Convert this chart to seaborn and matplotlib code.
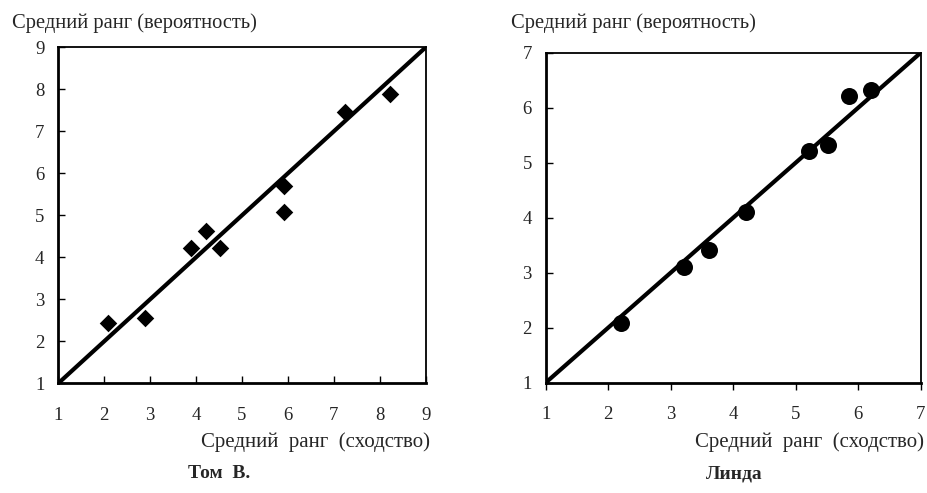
import matplotlib
matplotlib.use("Agg")
import matplotlib.pyplot as plt
import seaborn as sns
import pandas as pd

# ---- data ----
tom_similarity = [2.09, 2.89, 3.90, 4.21, 4.53, 5.91, 5.91, 7.24, 8.22]
tom_probability = [2.44, 2.55, 4.23, 4.63, 4.22, 5.70, 5.09, 7.46, 7.90]
linda_similarity = [2.20, 3.21, 3.61, 4.21, 5.21, 5.52, 5.86, 6.20]
linda_probability = [2.09, 3.10, 3.41, 4.10, 5.22, 5.32, 6.21, 6.32]
tom_diag = [1, 9]
linda_diag = [1, 7]
tom_ticks = [1, 2, 3, 4, 5, 6, 7, 8, 9]
linda_ticks = [1, 2, 3, 4, 5, 6, 7]
xlabel = "Средний  ранг  (сходство)"
ylabel = "Средний ранг (вероятность)"
titles = ["Том  В.", "Линда"]

sns.set_theme(style="white")
plt.rcParams['font.family'] = ['Liberation Serif', 'DejaVu Serif']

fig = plt.figure(figsize=(9.28, 4.93), dpi=100)
ax1 = fig.add_axes([0.0628, 0.2225, 0.3959, 0.6815])
ax2 = fig.add_axes([0.5880, 0.2237, 0.4041, 0.6693])

df_t = pd.DataFrame({"x": tom_similarity, "y": tom_probability})
df_l = pd.DataFrame({"x": linda_similarity, "y": linda_probability})

sns.lineplot(x=tom_diag, y=tom_diag, ax=ax1, color="black", lw=3, zorder=2)
sns.scatterplot(data=df_t, x="x", y="y", ax=ax1, marker="D", s=80,
                color="black", edgecolor="black", linewidth=0, zorder=3)
sns.lineplot(x=linda_diag, y=linda_diag, ax=ax2, color="black", lw=3, zorder=2)
sns.scatterplot(data=df_l, x="x", y="y", ax=ax2, marker="o", s=150,
                color="black", edgecolor="black", linewidth=0, zorder=3)

for ax, ticks, xdir in [(ax1, tom_ticks, "in"), (ax2, linda_ticks, "out")]:
    ax.set_xlim(ticks[0], ticks[-1])
    ax.set_ylim(ticks[0], ticks[-1])
    ax.set_xticks(ticks)
    ax.set_yticks(ticks)
    ax.set_xlabel("")
    ax.set_ylabel("")
    ax.tick_params(axis="x", direction=xdir, length=5, width=1, color="black",
                   labelsize=13.5, pad=(17 if xdir == "in" else 12),
                   bottom=True)
    ax.tick_params(axis="y", direction="in", length=5, width=1, color="black",
                   labelsize=13.5, pad=10, left=True)
    for side in ["left", "bottom"]:
        ax.spines[side].set_linewidth(2)
        ax.spines[side].set_color("black")
    for side in ["top", "right"]:
        ax.spines[side].set_linewidth(1.3)
        ax.spines[side].set_color("black")
        ax.spines[side].set_visible(True)
    ax.set_facecolor("white")

# Axis labels
fig.text(12 / 928, 1 - 23 / 493, ylabel, fontsize=14.8, ha="left", va="center")
fig.text(511 / 928, 1 - 23 / 493, ylabel, fontsize=14.8, ha="left", va="center")
fig.text(430 / 928, 1 - 442 / 493, xlabel, fontsize=15, ha="right", va="center")
fig.text(924 / 928, 1 - 442 / 493, xlabel, fontsize=15, ha="right", va="center")
# Panel titles
fig.text(219 / 928, 1 - 474 / 493, titles[0], fontsize=14, fontweight="bold",
         ha="center", va="center")
fig.text(734 / 928, 1 - 474 / 493, titles[1], fontsize=14, fontweight="bold",
         ha="center", va="center")

fig.savefig("out.png", dpi=100, facecolor="white")
